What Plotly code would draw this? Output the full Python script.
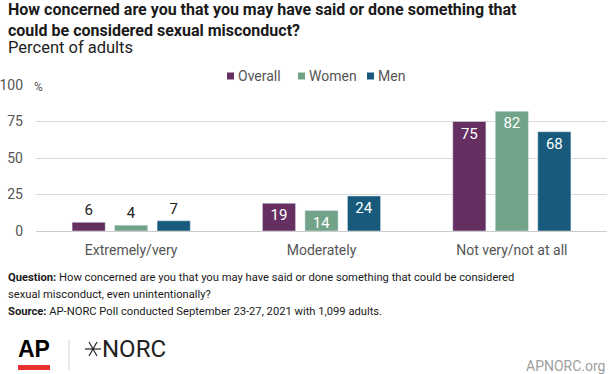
import plotly.graph_objects as go

categories = ["Extremely/very", "Moderately", "Not very/not at all"]
series_names = ["Overall", "Women", "Men"]
overall = [6, 19, 75]
women = [4, 14, 82]
men = [7, 24, 68]
colors = ["#662f62", "#70a387", "#175a7b"]
y_ticks = [0, 25, 50, 75, 100]

W, H = 612, 374
L, R, T, B = 36, 5, 85, 143
pw, ph = W - L - R, H - T - B

def px(x):
    return (x - L) / pw

def py(y):
    return (H - B - y) / ph

fig = go.Figure()
for name, vals, col in zip(series_names, [overall, women, men], colors):
    pos = ["outside" if v < 10 else "inside" for v in vals]
    fig.add_trace(go.Bar(
        x=categories, y=vals, name=name, marker_color=col,
        text=[str(v) for v in vals], textposition=pos,
        insidetextanchor="end", textangle=0, constraintext="none",
        insidetextfont=dict(color="white", size=15, family="Roboto"),
        outsidetextfont=dict(color="#222222", size=15, family="Roboto"),
        cliponaxis=False, showlegend=False, hoverinfo="skip",
    ))

fig.update_layout(
    width=W, height=H,
    margin=dict(l=L, r=R, t=T, b=B, autoexpand=False),
    paper_bgcolor="white", plot_bgcolor="white",
    barmode="group", bargap=0.33, bargroupgap=0.22,
    font=dict(family="Roboto", color="#555555"),
    showlegend=False,
    xaxis=dict(showgrid=False, showline=False, ticks="", automargin=False,
               tickfont=dict(size=14, color="#555555"), ticklabelstandoff=9),
    yaxis=dict(range=[0, 100], tickvals=y_ticks, showgrid=True, gridcolor="#d9d9d9", gridwidth=1,
               zeroline=True, zerolinecolor="#cccccc", zerolinewidth=1, automargin=False,
               ticks="", tickfont=dict(size=14, color="#555555"), ticklabelstandoff=12),
)

note_lines = [
    ("<b>Question:</b> How concerned are you that you may have said or done something that could be considered", 277),
    ("sexual misconduct, even unintentionally?", 294),
    ("<b>Source:</b> AP-NORC Poll conducted September 23-27, 2021 with 1,099 adults.", 311),
]

ann = [
    dict(text="<b>How concerned are you that you may have said or done something that<br>could be considered sexual misconduct?</b>",
         x=px(6), y=py(20), xanchor="left", yanchor="middle", align="left",
         font=dict(size=16, color="#1a1a1a", family="Roboto")),
    dict(text="Percent of adults", x=px(6), y=py(47), xanchor="left", yanchor="middle",
         font=dict(size=16.5, color="#222222", family="Roboto")),
    dict(text="%", x=px(32), y=py(87), xanchor="left", yanchor="middle", bgcolor="white",
         font=dict(size=12, color="#555555", family="Roboto")),
    dict(text="<b>AP</b>", x=px(16), y=py(349), xanchor="left", yanchor="middle",
         font=dict(size=23, color="#000000", family="Liberation Sans")),
    dict(text="NORC", x=px(100), y=py(349), xanchor="left", yanchor="middle",
         font=dict(size=24, color="#222222", family="Roboto")),
    dict(text="APNORC.org", x=px(607), y=py(366), xanchor="right", yanchor="middle",
         font=dict(size=14, color="#a0a0a0", family="Roboto")),
]
for txt, yy in note_lines:
    ann.append(dict(text=txt, x=px(6), y=py(yy), xanchor="left", yanchor="middle", align="left",
                    font=dict(size=11.2, color="#1a1a1a", family="Roboto")))

legend_x = [227, 298, 367]
shapes = [
    dict(type="rect", x0=px(18), x1=px(50), y0=py(365), y1=py(370), fillcolor="#e8312f", line_width=0),
    dict(type="line", x0=px(69), x1=px(69), y0=py(340), y1=py(370), line=dict(color="#d0d0d0", width=1)),
    dict(type="line", x0=px(85), x1=px(101), y0=py(349), y1=py(349), line=dict(color="#222222", width=1.2)),
    dict(type="line", x0=px(89), x1=px(97), y0=py(342), y1=py(356), line=dict(color="#222222", width=1.2)),
    dict(type="line", x0=px(97), x1=px(89), y0=py(342), y1=py(356), line=dict(color="#222222", width=1.2)),
]
for name, col, lx in zip(series_names, colors, legend_x):
    shapes.append(dict(type="rect", x0=px(lx), x1=px(lx + 7), y0=py(72.5), y1=py(79.5),
                       fillcolor=col, line_width=0))
    ann.append(dict(text=name, x=px(lx + 8.5), y=py(76), xanchor="left", yanchor="middle",
                    font=dict(size=14, color="#555555", family="Roboto")))

for a in ann:
    a.update(xref="paper", yref="paper", showarrow=False)
for s in shapes:
    s.update(xref="paper", yref="paper")
fig.update_layout(annotations=ann, shapes=shapes)

fig.write_html("out.html", config={"displayModeBar": False},
               post_script="document.body.style.margin='0';document.body.style.padding='0';document.body.style.overflow='hidden';")
